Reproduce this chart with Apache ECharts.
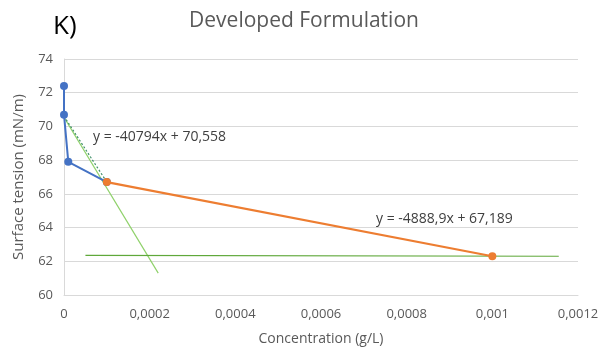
<!DOCTYPE html>
<html><head><meta charset="utf-8">
<script src="https://cdn.jsdelivr.net/npm/echarts@6/dist/echarts.min.js"></script>
<style>html,body{margin:0;padding:0;background:#fff}#c{width:603px;height:352px}</style>
</head><body><div id="c"></div>
<script>
// Data
const blueX = [0, 0, 0.00001, 0.0001];
const blueY = [72.4, 70.7, 67.9, 66.7];
const orangeX = [0.0001, 0.001];
const orangeY = [66.7, 62.3];
const trend1X = [-0.000012, 0.00022];
const trend1Y = [71.05, 61.3];
const trend1DotX = [0, 0.0001];
const trend1DotY = [70.6, 66.7];
const baseX = [0.00005, 0.001155];
const baseY = [62.35, 62.3];
const yTicks = [60, 74, 2];
const xTicks = [0, 0.0012, 0.0002];
const title = 'Developed Formulation';
const eq1 = 'y = -40794x + 70,558';
const eq2 = 'y = -4888,9x + 67,189';

const zip = (a, b) => a.map((v, i) => [v, b[i]]);
const FONT = 'Open Sans';
const chart = echarts.init(document.getElementById('c'));
chart.setOption({
  animation: false,
  backgroundColor: '#fff',
  textStyle: {fontFamily: FONT},
  title: {text: title, left: 299, top: 6, textAlign: 'center',
    textStyle: {fontFamily: FONT, fontSize: 21, fontWeight: 'normal', color: '#595959'}},
  grid: {left: 64, right: 25, top: 59, bottom: 57},
  xAxis: {type: 'value', min: xTicks[0], max: xTicks[1], interval: xTicks[2],
    name: 'Concentration (g/L)', nameLocation: 'middle', nameGap: 37,
    nameTextStyle: {fontSize: 14, color: '#595959', fontFamily: FONT},
    axisLine: {show: true, lineStyle: {color: '#d9d9d9'}}, axisTick: {show: false},
    splitLine: {show: false},
    axisLabel: {color: '#595959', fontSize: 13, margin: 13,
      formatter: v => v === 0 ? '0' : String(+v.toFixed(5)).replace('.', ',')}},
  yAxis: {type: 'value', min: yTicks[0], max: yTicks[1], interval: yTicks[2],
    name: 'Surface tension (mN/m)', nameLocation: 'middle', nameGap: 38,
    nameTextStyle: {fontSize: 15, color: '#595959', fontFamily: FONT},
    axisLine: {show: true, lineStyle: {color: '#d9d9d9'}}, axisTick: {show: false},
    splitLine: {lineStyle: {color: '#d9d9d9'}},
    axisLabel: {color: '#595959', fontSize: 13, margin: 11}},
  series: [
    {type: 'line', data: zip(trend1X, trend1Y), symbol: 'none', clip: false,
      lineStyle: {color: '#8fd16a', width: 1.2}, z: 2},
    {type: 'line', data: zip(trend1DotX, trend1DotY), symbol: 'none',
      lineStyle: {color: '#3f8f6a', width: 1.2, type: [2, 2]}, z: 3},
    {type: 'line', data: zip(baseX, baseY), symbol: 'none',
      lineStyle: {color: '#5fa83a', width: 1.2}, z: 2},
    {type: 'line', data: zip(blueX, blueY), symbol: 'circle', symbolSize: 8,
      lineStyle: {color: '#4472C4', width: 2}, itemStyle: {color: '#4472C4'}, z: 4},
    {type: 'line', data: zip(orangeX, orangeY), symbol: 'circle', symbolSize: 8,
      lineStyle: {color: '#ED7D31', width: 2.2}, itemStyle: {color: '#ED7D31'}, z: 5}
  ],
  graphic: [
    {type: 'text', left: 53, top: 14, style: {text: 'K)', fontFamily: FONT, fontSize: 26, fill: '#000'}},
    {type: 'text', left: 93, top: 130, style: {text: eq1, fontFamily: FONT, fontSize: 14, fill: '#404040'}},
    {type: 'text', left: 376, top: 212, style: {text: eq2, fontFamily: FONT, fontSize: 14, fill: '#404040'}}
  ]
});
</script></body></html>
